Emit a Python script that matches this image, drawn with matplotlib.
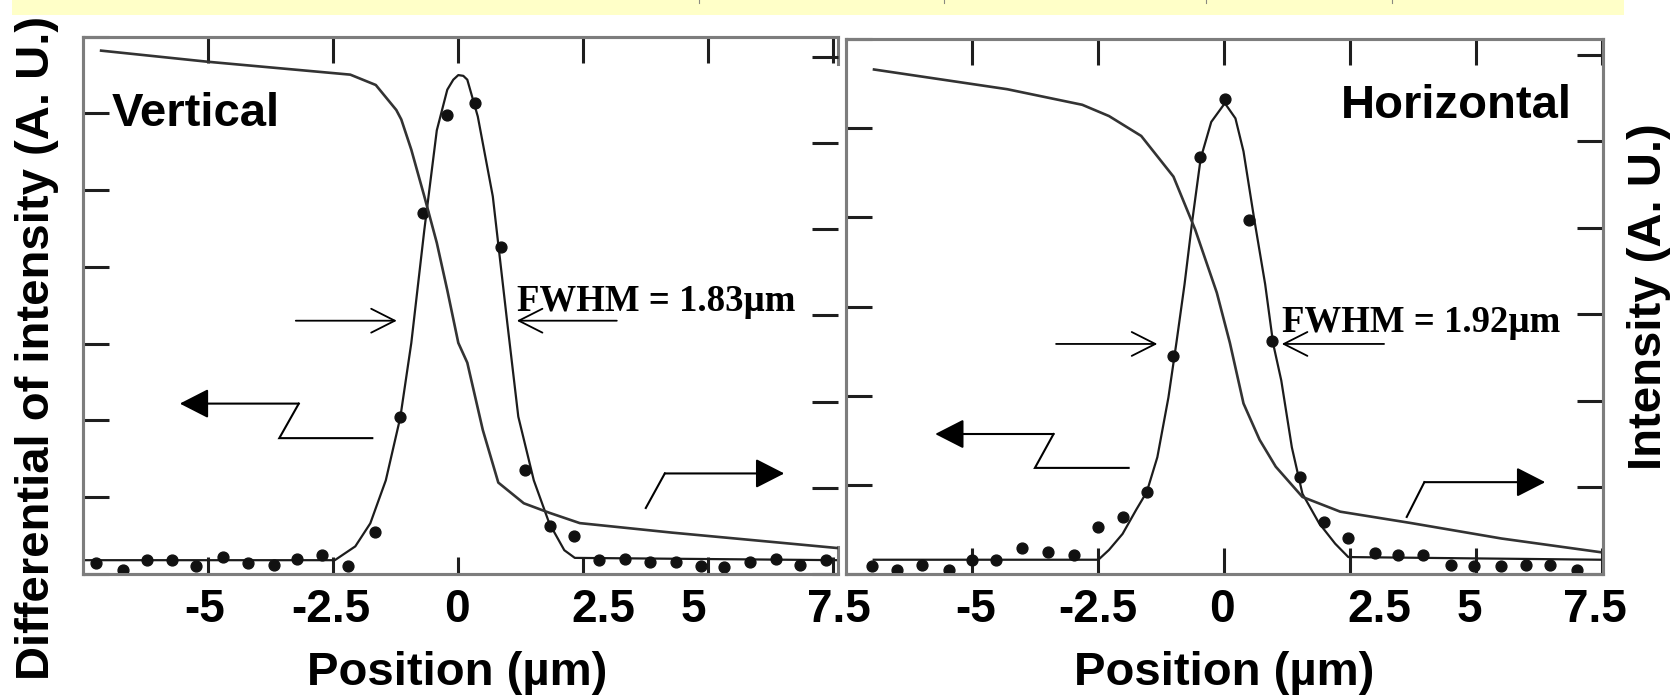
import matplotlib
matplotlib.use("Agg")
import matplotlib.pyplot as plt
from matplotlib.patches import Rectangle, FancyArrowPatch, ArrowStyle
from matplotlib.lines import Line2D
from matplotlib.transforms import ScaledTranslation

W, H, DPI = 1673, 695, 100
SANS = "Liberation Sans"
SERIF = "Liberation Serif"

# ---------------- data ----------------
x_ticks = [-5, -2.5, 0, 2.5, 5, 7.5]
x_ticklabels = ["-5", "-2.5", "0", "2.5", "5", "7.5"]

# Vertical scan: derivative points, Gaussian fit, and intensity profile
vert_pts_x = [-7.24, -6.70, -6.22, -5.73, -5.24, -4.71, -4.20, -3.69, -3.23, -2.72,
              -2.21, -1.67, -1.16, -0.71, -0.22, 0.34, 0.85, 1.33, 1.84, 2.31,
              2.82, 3.33, 3.84, 4.35, 4.86, 5.32, 5.83, 6.36, 6.84, 7.36]
vert_pts_y = [0.14, 0.05, 0.18, 0.18, 0.10, 0.22, 0.14, 0.12, 0.19, 0.25,
              0.10, 0.55, 2.04, 4.70, 5.98, 6.13, 4.26, 1.35, 0.62, 0.50,
              0.18, 0.20, 0.16, 0.16, 0.10, 0.09, 0.16, 0.19, 0.12, 0.18]
vert_fit_x = [-7.5, -2.47, -2.06, -1.76, -1.45, -1.16, -0.94, -0.68, -0.43, -0.22,
              -0.10, 0.0, 0.10, 0.18, 0.39, 0.69, 0.98, 1.20, 1.51, 1.82, 2.12, 2.33, 7.6]
vert_fit_y = [0.18, 0.18, 0.36, 0.66, 1.22, 2.04, 3.01, 4.48, 5.78, 6.31,
              6.44, 6.50, 6.49, 6.44, 5.96, 4.92, 3.27, 2.05, 1.22, 0.66, 0.31, 0.21, 0.18]
vert_int_x = [-7.17, -5.02, -2.16, -1.65, -1.24, -1.14, -0.94, -0.68, -0.43, -0.22,
              0.0, 0.18, 0.49, 0.80, 1.31, 1.82, 2.43, 4.27, 6.31, 7.6]
vert_int_y = [6.07, 5.94, 5.79, 5.67, 5.38, 5.27, 4.92, 4.38, 3.84, 3.29,
              2.68, 2.45, 1.67, 1.06, 0.82, 0.71, 0.59, 0.48, 0.37, 0.30]

# Horizontal scan
horz_pts_x = [-6.99, -6.49, -5.99, -5.45, -5.00, -4.52, -4.00, -3.50, -2.97, -2.49,
              -2.01, -1.53, -1.00, -0.48, 0.02, 0.50, 0.95, 1.51, 1.99, 2.47,
              3.00, 3.46, 3.96, 4.50, 4.97, 5.51, 5.99, 6.47, 7.00]
horz_pts_y = [0.09, 0.05, 0.10, 0.05, 0.16, 0.16, 0.29, 0.25, 0.21, 0.53,
              0.64, 0.92, 2.45, 4.68, 5.33, 3.97, 2.61, 1.09, 0.58, 0.40,
              0.23, 0.21, 0.21, 0.10, 0.09, 0.09, 0.10, 0.10, 0.05]
horz_fit_x = [-6.95, -2.49, -2.28, -2.01, -1.74, -1.53, -1.32, -1.10, -0.94, -0.78,
              -0.62, -0.46, -0.25, 0.02, 0.23, 0.39, 0.60, 0.82, 0.98, 1.14,
              1.35, 1.56, 1.89, 2.21, 2.47, 7.5]
horz_fit_y = [0.16, 0.16, 0.27, 0.45, 0.72, 0.92, 1.31, 1.98, 2.60, 3.25,
              3.99, 4.66, 5.07, 5.28, 5.11, 4.74, 3.99, 3.25, 2.58, 2.17,
              1.42, 0.90, 0.57, 0.34, 0.19, 0.16]
horz_int_x = [-6.97, -4.30, -2.81, -2.28, -1.64, -1.00, -0.57, -0.14, 0.12, 0.39,
              0.71, 1.03, 1.56, 2.31, 3.70, 5.51, 7.5]
horz_int_y = [5.83, 5.60, 5.42, 5.29, 5.06, 4.59, 3.98, 3.25, 2.67, 1.97,
              1.55, 1.24, 0.89, 0.72, 0.59, 0.41, 0.25]

# annotation anchors (data units of the derivative axis)
vert_fwhm_label = "FWHM = 1.83µm"
vert_fwhm_pos = (1.17, 3.42)
vert_fwhm_arrows = [((-3.25, 3.30), (-1.23, 3.30)), ((3.17, 3.30), (1.17, 3.30))]
vert_left_step = [(-1.72, 1.77), (-3.58, 1.77), (-3.19, 2.22), (-5.57, 2.22)]
vert_right_step = [(3.75, 0.86), (4.13, 1.31), (6.52, 1.31)]

horz_fwhm_label = "FWHM = 1.92µm"
horz_fwhm_pos = (1.15, 2.71)
horz_fwhm_arrows = [((-3.33, 2.58), (-1.32, 2.58)), ((3.18, 2.58), (1.15, 2.58))]
horz_left_step = [(-1.89, 1.19), (-3.75, 1.19), (-3.38, 1.57), (-5.73, 1.57)]
horz_right_step = [(3.63, 0.64), (3.98, 1.03), (6.38, 1.03)]

# ---------------- figure ----------------
fig = plt.figure(figsize=(W / DPI, H / DPI), dpi=DPI)
fig.patch.set_facecolor("white")

# pale banner strip along the top edge
fig.add_artist(Rectangle((12 / W, 1 - 15 / H), (1624 - 12) / W, 15 / H,
                         transform=fig.transFigure, facecolor="#ffffc8",
                         edgecolor="none"))
for xm in (699, 944, 1206, 1392):
    fig.add_artist(Line2D([xm / W, xm / W], [1, 1 - 2.5 / H], transform=fig.transFigure,
                          color="#8a8a80", lw=0.8))

SPINE_C = "#7d7d7d"
TICK_C = "#1e1e1e"
TICK_LEN = 18.7  # points (~26 px)


def px_axes(x0, y0, x1, y1):
    return fig.add_axes([x0 / W, 1 - y1 / H, (x1 - x0) / W, (y1 - y0) / H])


def style_pair(ax, ax2, xlim, ylim_d, yticks_d, ylim_i, yticks_i, xoffsets, bottom_len):
    ax.set_xlim(*xlim)
    ax2.set_xlim(*xlim)
    ax.set_ylim(*ylim_d)
    ax2.set_ylim(*ylim_i)
    ax.set_yticks(yticks_d)
    ax2.set_yticks(yticks_i)
    ax.set_xticks(x_ticks)
    ax.set_xticklabels(x_ticklabels)
    for a in (ax, ax2):
        for s in a.spines.values():
            s.set_color(SPINE_C)
            s.set_linewidth(2.2)
    ax.tick_params(axis="y", direction="in", left=True, right=False, labelleft=False,
                   length=TICK_LEN, width=2.2, color=TICK_C)
    ax2.tick_params(axis="y", direction="in", right=True, left=False, labelright=False,
                    length=TICK_LEN, width=2.2, color=TICK_C)
    ax.tick_params(axis="x", direction="in", top=True, bottom=True, length=TICK_LEN,
                   width=2.2, color=TICK_C, pad=10, labelsize=33)
    for lab in ax.get_xticklabels():
        lab.set_fontfamily(SANS)
        lab.set_fontweight("bold")
    for t, dx in zip(ax.xaxis.get_major_ticks(), xoffsets):
        t.tick1line.set_markersize(bottom_len)
        t.label1.set_transform(t.label1.get_transform()
                               + ScaledTranslation(dx / DPI, 0, fig.dpi_scale_trans))


def draw_panel(ax, ax2, px, py, fx, fy, ix, iy):
    ax2.plot(ix, iy, color="#333333", lw=1.9, solid_capstyle="butt", zorder=3)
    ax.plot(fx, fy, color="#1c1c1c", lw=1.6, zorder=3)
    ax.plot(px, py, "o", ms=7.8, color="#111111", mec="#111111", zorder=4)


def draw_notes(ax, label, lpos, fwhm_arrows, left_step, right_step):
    ax.text(lpos[0], lpos[1], label, family=SERIF, weight="bold", fontsize=26.5,
            ha="left", va="baseline", zorder=6)
    for a, b in fwhm_arrows:
        ax.add_patch(FancyArrowPatch(a, b, arrowstyle=ArrowStyle("->", head_length=17,
                                                                 head_width=8.6),
                                     mutation_scale=1, lw=1.3, color="black",
                                     shrinkA=0, shrinkB=0, zorder=6))
    for pts in (left_step, right_step):
        xs = [p[0] for p in pts[:-1]]
        ys = [p[1] for p in pts[:-1]]
        ax.plot(xs, ys, color="black", lw=1.5, solid_joinstyle="miter", zorder=6)
        ax.add_patch(FancyArrowPatch(pts[-2], pts[-1],
                                     arrowstyle=ArrowStyle("-|>", head_length=18,
                                                           head_width=9.2),
                                     mutation_scale=1, lw=1.5, color="black",
                                     shrinkA=0, shrinkB=0, zorder=6))


# ---- Vertical panel ----
axL = px_axes(83.3, 36.7, 838.3, 574)
axL2 = axL.twinx()
style_pair(axL, axL2, (-7.5, 7.6), (0, 7), list(range(8)), (0, 6.23), list(range(7)),
           [-4, -2, -1, 20, -15, 6], 12.2)
axL.spines["right"].set_visible(False)
axL2.spines["right"].set_visible(False)
for seg in ((0.0, 0.05), (0.95, 1.0)):
    axL.plot([1, 1], seg, transform=axL.transAxes, color=SPINE_C, lw=2.2,
             clip_on=False, zorder=5)
draw_panel(axL, axL2, vert_pts_x, vert_pts_y, vert_fit_x, vert_fit_y,
           vert_int_x, vert_int_y)
draw_notes(axL, vert_fwhm_label, vert_fwhm_pos, vert_fwhm_arrows,
           vert_left_step, vert_right_step)

# ---- Horizontal panel ----
axR = px_axes(846, 39, 1602.7, 574)
axR2 = axR.twinx()
style_pair(axR, axR2, (-7.5, 7.52), (0, 6), list(range(7)), (0, 6.18), list(range(7)),
           [3.5, 0, -1.5, 30, -6.5, -6.5], TICK_LEN)
draw_panel(axR, axR2, horz_pts_x, horz_pts_y, horz_fit_x, horz_fit_y,
           horz_int_x, horz_int_y)
draw_notes(axR, horz_fwhm_label, horz_fwhm_pos, horz_fwhm_arrows,
           horz_left_step, horz_right_step)

# ---- titles and axis labels ----
fig.text(111.7 / W, 1 - 125.5 / H, "Vertical", family=SANS, weight="bold",
         fontsize=34, ha="left", va="baseline")
fig.text(1572 / W, 1 - 117.5 / H, "Horizontal", family=SANS, weight="bold",
         fontsize=34, ha="right", va="baseline")

for ax, xc, top, bot in ((axL, 456.7, 36.7, 574), (axR, 1224.0, 39, 574)):
    ax.set_xlabel("Position (µm)", family=SANS, weight="bold", fontsize=34)
    ax0 = 83.3 if ax is axL else 846
    width = 755 if ax is axL else 756.7
    ax.xaxis.set_label_coords((xc - ax0) / width, -(685 - bot) / (bot - top))
    ax.xaxis.label.set_va("baseline")

axL.set_ylabel("Differential of intensity (A. U.)", family=SANS, weight="bold",
               fontsize=34, rotation=90)
axL.yaxis.set_label_coords((37 - 83.3) / 755, (574 - 348) / 537.3)
axL.yaxis.label.set_va("center")
axR2.set_ylabel("Intensity (A. U.)", family=SANS, weight="bold", fontsize=34,
                rotation=90)
axR2.yaxis.set_label_coords((1649 - 846) / 756.7, (574 - 297) / 535)
axR2.yaxis.label.set_va("center")

fig.savefig("out.png", dpi=DPI, facecolor="white")
